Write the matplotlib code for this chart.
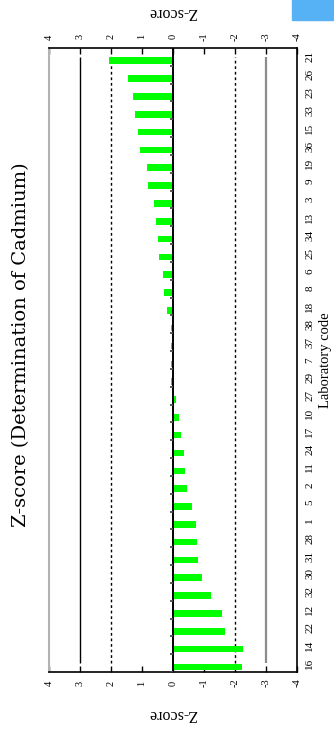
import matplotlib
matplotlib.use("Agg")
import matplotlib.pyplot as plt
import numpy as np
from matplotlib.patches import Rectangle

# laboratory codes, listed from bottom to top of the chart
lab_codes = ["16", "14", "22", "12", "32", "30", "31", "28", "1", "5",
             "2", "11", "24", "17", "10", "27", "29", "7", "37", "38",
             "18", "8", "6", "25", "34", "13", "3", "9", "19", "36",
             "15", "33", "23", "26", "21"]
z_scores = [-2.24, -2.25, -1.69, -1.57, -1.22, -0.92, -0.80, -0.76, -0.73, -0.60,
            -0.44, -0.38, -0.34, -0.25, -0.18, -0.09, 0.05, 0.06, 0.07, 0.07,
            0.19, 0.29, 0.32, 0.45, 0.50, 0.56, 0.62, 0.82, 0.85, 1.07,
            1.14, 1.24, 1.30, 1.46, 2.06]
z_ticks = [4, 3, 2, 1, 0, -1, -2, -3, -4]
title = "Z-score (Determination of Cadmium)"

serif = ["Liberation Serif", "DejaVu Serif"]

fig = plt.figure(figsize=(3.34, 7.31), dpi=100)
ax = fig.add_axes([49 / 334, 59 / 731, 248 / 334, 624 / 731])

n = len(lab_codes)
idx = np.arange(n)

ax.barh(idx - 0.215, z_scores, height=0.37, color="#00ff00", zorder=3)

# reference lines
ax.vlines([3], 0, n - 1, colors="black", lw=1.0, zorder=2)
ax.vlines([-3], 0, n - 1, colors="0.55", lw=1.6, zorder=2)
ax.vlines([2, -2], 0, n - 1, colors="black", linestyles=(0, (2, 2)), lw=1.0, zorder=2)
ax.axvline(0, color="black", lw=1.4, zorder=4)
# small category-boundary marks on the zero line
ax.hlines(idx - 0.5, 0, 0.1, colors="0.3", lw=1.3, zorder=4)

ax.set_xlim(4, -4)
ax.set_ylim(-0.5, n - 0.5)

ax.set_xticks(z_ticks)
ax.set_xticklabels([str(t) for t in z_ticks], rotation=90, family=serif, fontsize=7.5)
ax.tick_params(axis="x", direction="in", length=4, width=1, top=True, labeltop=True, pad=8)
for lbl in ax.get_xticklabels():
    lbl.set_verticalalignment("center")

ax.yaxis.tick_right()
ax.yaxis.set_label_position("right")
ax.set_yticks(idx)
ax.set_yticklabels(lab_codes, rotation=90, family=serif, fontsize=8, va="center")
ax.tick_params(axis="y", length=0, pad=6)

ax.set_xlabel("Z-score", rotation=180, family=serif, fontsize=11.5, labelpad=13)
ax.text(0.5, 1 + 36 / 624, "Z-score", transform=ax.transAxes, rotation=180,
        family=serif, fontsize=11.5, ha="center", va="center")
ax.set_ylabel("Laboratory code", rotation=90, family=serif, fontsize=10.5, labelpad=3)

fig.text(21 / 334, 1 - 345 / 731, title, rotation=90, family="DejaVu Serif",
         fontsize=14, ha="center", va="center")

for side in ["top", "bottom", "right"]:
    ax.spines[side].set_color("black")
    ax.spines[side].set_linewidth(1.2)
ax.spines["left"].set_color("0.7")
ax.spines["left"].set_linewidth(1.5)

fig.patches.append(Rectangle((292 / 334, 1 - 20 / 731), 42 / 334, 20 / 731,
                             transform=fig.transFigure, color="#57b1f5", zorder=0))

fig.savefig("out.png", dpi=100)
